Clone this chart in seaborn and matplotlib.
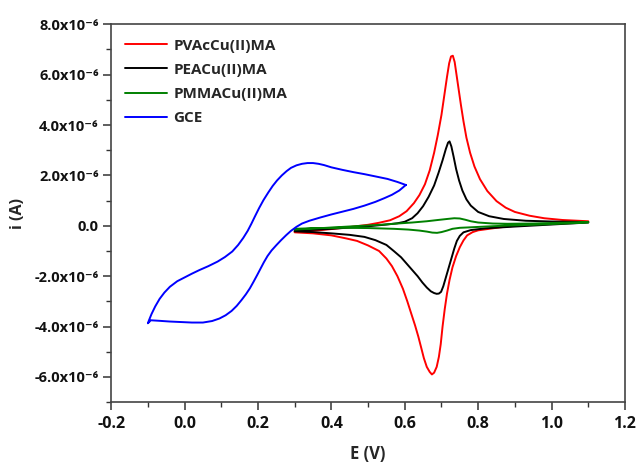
import numpy as np
import pandas as pd
import matplotlib
matplotlib.use('Agg')
import matplotlib.pyplot as plt
from matplotlib.ticker import MultipleLocator, FuncFormatter
import seaborn as sns

#%% Data (current in units of 1e-6 A)
red_E = [0.30, 0.35, 0.40, 0.45, 0.50, 0.53, 0.56, 0.585, 0.605, 0.625, 0.64, 0.655, 0.668, 0.68,
         0.69, 0.70, 0.708, 0.715, 0.721, 0.726, 0.731, 0.736, 0.741, 0.747, 0.753, 0.76, 0.768,
         0.778, 0.79, 0.805, 0.825, 0.85, 0.875, 0.90, 0.94, 0.98, 1.03, 1.10,
         1.10, 1.05, 1.00, 0.95, 0.90, 0.86, 0.83, 0.80, 0.785, 0.77, 0.76, 0.75, 0.74, 0.73,
         0.722, 0.715, 0.709, 0.703, 0.698, 0.693, 0.687, 0.68, 0.674, 0.668, 0.66, 0.652, 0.645,
         0.637, 0.628, 0.618, 0.607, 0.595, 0.58, 0.565, 0.55, 0.53, 0.50, 0.47, 0.44, 0.40,
         0.35, 0.30]
red_i = [-0.24, -0.20, -0.13, -0.05, 0.04, 0.12, 0.22, 0.38, 0.58, 0.9, 1.22, 1.65, 2.2, 2.9,
         3.6, 4.4, 5.2, 5.9, 6.45, 6.72, 6.75, 6.5, 6.0, 5.4, 4.8, 4.15, 3.5,
         2.9, 2.35, 1.85, 1.38, 0.98, 0.72, 0.55, 0.4, 0.3, 0.23, 0.18,
         0.15, 0.12, 0.08, 0.04, 0.0, -0.06, -0.12, -0.18, -0.25, -0.38, -0.58, -0.85, -1.2, -1.65,
         -2.15, -2.7, -3.3, -4.0, -4.7, -5.2, -5.6, -5.83, -5.9, -5.8, -5.6, -5.25, -4.85,
         -4.4, -3.95, -3.5, -3.0, -2.5, -2.0, -1.6, -1.3, -1.0, -0.78, -0.6, -0.5, -0.38,
         -0.3, -0.26]

blk_E = [0.30, 0.40, 0.50, 0.55, 0.58, 0.60, 0.62, 0.635, 0.65, 0.665, 0.68, 0.692, 0.703, 0.712,
         0.718, 0.722, 0.727, 0.733, 0.74, 0.748, 0.757, 0.768, 0.78, 0.80, 0.83, 0.87, 0.93,
         1.00, 1.10,
         1.10, 1.00, 0.90, 0.82, 0.78, 0.76, 0.75, 0.742, 0.735, 0.728, 0.72, 0.712, 0.705, 0.699,
         0.693, 0.687, 0.68, 0.671, 0.66, 0.648, 0.635, 0.62, 0.605, 0.59, 0.57, 0.55, 0.52,
         0.49, 0.45, 0.40, 0.35, 0.30]
blk_i = [-0.20, -0.12, -0.02, 0.05, 0.10, 0.16, 0.30, 0.50, 0.78, 1.15, 1.6, 2.1, 2.6, 3.05,
         3.3, 3.35, 3.15, 2.75, 2.25, 1.8, 1.4, 1.05, 0.8, 0.55, 0.38, 0.27, 0.2,
         0.17, 0.15,
         0.13, 0.05, -0.03, -0.10, -0.17, -0.26, -0.4, -0.6, -0.9, -1.25, -1.65, -2.05, -2.4, -2.62,
         -2.69, -2.7, -2.67, -2.6, -2.45, -2.25, -2.0, -1.75, -1.5, -1.25, -1.0, -0.76, -0.57,
         -0.44, -0.36, -0.3, -0.25, -0.22]

grn_E = [0.30, 0.35, 0.40, 0.47, 0.534, 0.58, 0.62, 0.66, 0.69, 0.715, 0.735, 0.75, 0.765, 0.78,
         0.80, 0.84, 0.88, 0.95, 1.02, 1.10,
         1.10, 1.02, 0.95, 0.88, 0.82, 0.78, 0.75, 0.73, 0.715, 0.70, 0.688, 0.675, 0.66, 0.64,
         0.61, 0.57, 0.50, 0.43, 0.36, 0.30]
grn_i = [-0.15, -0.11, -0.07, -0.01, 0.04, 0.09, 0.13, 0.18, 0.23, 0.27, 0.30, 0.29, 0.24, 0.18,
         0.13, 0.09, 0.08, 0.09, 0.12, 0.15,
         0.13, 0.08, 0.04, 0.01, -0.03, -0.06, -0.08, -0.12, -0.19, -0.25, -0.28, -0.27, -0.23, -0.19,
         -0.15, -0.12, -0.09, -0.08, -0.09, -0.12]

gce_E = [0.603, 0.58, 0.553, 0.52, 0.49, 0.46, 0.43, 0.40, 0.38, 0.365, 0.35, 0.335, 0.32, 0.305,
         0.29, 0.278, 0.265, 0.252, 0.24, 0.228, 0.215, 0.203, 0.192, 0.182, 0.172, 0.16, 0.146,
         0.13, 0.11, 0.09, 0.065, 0.04, 0.02, 0.0, -0.02, -0.04, -0.055, -0.068, -0.08, -0.09,
         -0.097, -0.10,
         -0.092, -0.07, -0.04, -0.01, 0.02, 0.05, 0.075, 0.095, 0.112, 0.128, 0.142, 0.155, 0.167,
         0.178, 0.188, 0.198, 0.207, 0.216, 0.226, 0.237, 0.25, 0.263, 0.277, 0.29, 0.305, 0.32,
         0.34, 0.37, 0.40, 0.43, 0.46, 0.49, 0.52, 0.545, 0.565, 0.585, 0.603]
gce_i = [1.62, 1.74, 1.86, 1.96, 2.05, 2.13, 2.22, 2.32, 2.41, 2.46, 2.49, 2.49, 2.46, 2.40,
         2.30, 2.17, 2.0, 1.8, 1.58, 1.32, 1.02, 0.7, 0.38, 0.08, -0.2, -0.48, -0.76,
         -1.02, -1.24, -1.42, -1.6, -1.76, -1.9, -2.05, -2.2, -2.42, -2.65, -2.9, -3.2, -3.5,
         -3.75, -3.87,
         -3.75, -3.77, -3.8, -3.82, -3.84, -3.84, -3.78, -3.68, -3.55, -3.38, -3.18, -2.95, -2.72,
         -2.48, -2.22, -1.95, -1.7, -1.45, -1.2, -0.98, -0.77, -0.57, -0.37, -0.2, -0.04, 0.09,
         0.2, 0.33, 0.45, 0.56, 0.67, 0.8, 0.95, 1.1, 1.23, 1.4, 1.62]

labels = ['PVAcCu(II)MA', 'PEACu(II)MA', 'PMMACu(II)MA', 'GCE']
colors = ['#ff0000', '#000000', '#008000', '#0000ff']

frames = []
for lab, E, i in zip(labels, [red_E, blk_E, grn_E, gce_E], [red_i, blk_i, grn_i, gce_i]):
    frames.append(pd.DataFrame({'E': E, 'i': np.array(i) * 1e-6, 'sample': lab}))
df = pd.concat(frames, ignore_index=True)

#%% Plot
sns.set_style('ticks')
plt.rcParams['font.family'] = ['Open Sans', 'DejaVu Sans']
plt.rcParams['font.weight'] = 'bold'

fig = plt.figure(figsize=(6.39, 4.66), dpi=100)
ax = fig.add_axes([0.174, 0.137, 0.804, 0.811])

sns.lineplot(data=df, x='E', y='i', hue='sample', units='sample', estimator=None,
             sort=False, palette=dict(zip(labels, colors)), hue_order=labels,
             linewidth=1.4, ax=ax)

ax.set_xlim(-0.2, 1.2)
ax.set_ylim(-7e-6, 8e-6)
ax.xaxis.set_major_locator(MultipleLocator(0.2))
ax.xaxis.set_minor_locator(MultipleLocator(0.1))
ax.yaxis.set_major_locator(MultipleLocator(2e-6))
ax.yaxis.set_minor_locator(MultipleLocator(1e-6))


def yfmt(v, pos):
    m = v / 1e-6
    if abs(m) < 1e-9:
        return '0.0'
    return '%.1fx10\u207b\u2076' % m


ax.yaxis.set_major_formatter(FuncFormatter(yfmt))
ax.xaxis.set_major_formatter(FuncFormatter(lambda v, p: '%.1f' % v))

for s in ax.spines.values():
    s.set_color('#444444')
    s.set_linewidth(1.2)
ax.tick_params(which='major', length=6, width=1.1, color='#333333', labelcolor='#111111')
ax.tick_params(which='minor', length=3.5, width=1.0, color='#333333')
ax.tick_params(axis='x', which='major', labelsize=11.5, pad=4)
ax.tick_params(axis='y', which='major', labelsize=10.5, pad=3)
ax.tick_params(top=False, right=False, which='both')

ax.set_xlabel('E (V)', fontsize=12, fontweight='bold', labelpad=9)
ax.set_ylabel('i (A)', fontsize=11.5, fontweight='bold', labelpad=6)

leg = ax.legend(loc='upper left', bbox_to_anchor=(0.007, 0.99), frameon=False,
                handlelength=2.75, handletextpad=0.4, labelspacing=0.66,
                prop={'size': 11, 'weight': 'bold'}, borderaxespad=0.3)
for line in leg.get_lines():
    line.set_linewidth(1.4)

fig.savefig('out.png', dpi=100)
